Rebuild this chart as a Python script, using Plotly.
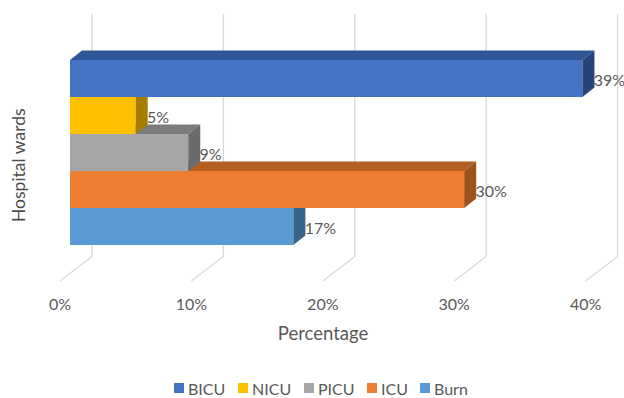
import plotly.graph_objects as go

# Ward shares, listed from the lowest bar to the highest
wards = ["Burn", "ICU", "PICU", "NICU", "BICU"]
shares = [17, 30, 9, 5, 39]
front_colors = ["#5B9BD5", "#ED7D31", "#A5A5A5", "#FFC000", "#4472C4"]
top_colors = ["#3F6E99", "#B35E22", "#7B7B7B", "#A67D00", "#2F5597"]
side_colors = ["#376489", "#9C5218", "#6B6B6B", "#A67D00", "#264478"]
legend_order = ["BICU", "NICU", "PICU", "ICU", "Burn"]
legend_key_px = [174, 238, 304, 367, 420]
x_ticks = [0, 10, 20, 30, 40]

# Pixel layout of the plotting area and the scale of both axes
WIDTH, HEIGHT = 624, 398
LEFT, BOTTOM_PX = 22, 292
ZERO_PX, PX_PER_PCT = 70.0, 13.14
BURN_PX, PX_PER_BAND = 226.5, 37.0

# Oblique offset of the bars' depth and of the floor and back wall
DEPTH_X, DEPTH_Y = 12 / PX_PER_PCT, 9.5 / PX_PER_BAND
WALL_X = 22 / PX_PER_PCT
FLOOR_FRONT_X = -10 / PX_PER_PCT
FLOOR_BACK_Y = (BURN_PX - 256.5) / PX_PER_BAND
FLOOR_FRONT_Y = (BURN_PX - 281) / PX_PER_BAND
WALL_TOP_Y = (BURN_PX - 14) / PX_PER_BAND
LABEL_DROP = 3 / PX_PER_BAND
LEGEND_Y_PX, KEY_SIZE = 388, 10

fig = go.Figure()

# Front faces as horizontal bars
for name in legend_order:
    i = wards.index(name)
    fig.add_trace(go.Bar(
        x=[shares[i]], y=[i], name=name, orientation="h", width=1,
        marker=dict(color=front_colors[i], line=dict(width=0)),
        showlegend=False,
    ))


def face(xs, ys, color):
    fig.add_trace(go.Scatter(
        x=xs, y=ys, mode="lines", fill="toself", fillcolor=color,
        line=dict(width=0, color=color), showlegend=False, hoverinfo="skip",
    ))


# Top and side faces, lowest bar first; the part behind the next bar up is left out
for i, value in enumerate(shares):
    low, high = i - 0.5, i + 0.5
    above = shares[i + 1] if i + 1 < len(shares) else None
    if above is None or above < value:
        start = 0 if above is None else above
        back_start = DEPTH_X if above is None else above
        face([start, value, value + DEPTH_X, back_start, start],
             [high, high, high + DEPTH_Y, high + DEPTH_Y, high], top_colors[i])
    side_top = high + DEPTH_Y if above is None or above < value + DEPTH_X else high
    face([value, value + DEPTH_X, value + DEPTH_X, value, value],
         [low, low + DEPTH_Y, side_top, high, low], side_colors[i])

# Value labels just past each bar's end
fig.add_trace(go.Scatter(
    x=[v + DEPTH_X - 0.05 for v in shares],
    y=[i - LABEL_DROP for i in range(len(shares))],
    mode="text",
    text=[f"{v}%" for v in shares],
    textposition="middle right",
    textfont=dict(family="Lato", size=16, color="#595959"),
    showlegend=False,
    hoverinfo="skip",
))

# Back-wall and floor gridlines sit beneath the bars
grid = dict(color="#D9D9D9", width=1.3)
shapes = []
for t in x_ticks:
    shapes.append(dict(type="line", layer="below", xref="x", yref="y",
                       x0=t + WALL_X, x1=t + WALL_X, y0=WALL_TOP_Y, y1=FLOOR_BACK_Y, line=grid))
    shapes.append(dict(type="line", layer="below", xref="x", yref="y",
                       x0=t + WALL_X, x1=t + FLOOR_FRONT_X, y0=FLOOR_BACK_Y, y1=FLOOR_FRONT_Y, line=grid))

annotations = [dict(
    text="Hospital wards", textangle=-90, showarrow=False,
    xref="paper", x=0, xshift=-4, xanchor="center",
    yref="y", y=(BURN_PX - 165) / PX_PER_BAND, yanchor="middle",
    font=dict(size=17.5, color="#4D4D4D"),
)]


def paper_x(px):
    return (px - LEFT) / (WIDTH - LEFT)


def paper_y(px):
    return (BOTTOM_PX - px) / BOTTOM_PX


# Key row under the chart: one square and one name per ward
for name, key_px in zip(legend_order, legend_key_px):
    color = front_colors[wards.index(name)]
    shapes.append(dict(
        type="rect", xref="paper", yref="paper", fillcolor=color, line=dict(width=0),
        x0=paper_x(key_px), x1=paper_x(key_px + KEY_SIZE),
        y0=paper_y(LEGEND_Y_PX + KEY_SIZE / 2), y1=paper_y(LEGEND_Y_PX - KEY_SIZE / 2),
    ))
    annotations.append(dict(
        text=name, showarrow=False, xref="paper", yref="paper",
        x=paper_x(key_px + KEY_SIZE + 4), xanchor="left", xshift=-2,
        y=paper_y(LEGEND_Y_PX), yanchor="middle",
        font=dict(size=16, color="#595959"),
    ))

fig.update_layout(
    width=WIDTH, height=HEIGHT,
    margin=dict(l=LEFT, r=0, t=0, b=HEIGHT - BOTTOM_PX, autoexpand=False),
    paper_bgcolor="white", plot_bgcolor="white",
    font=dict(family="Lato", color="#595959"),
    shapes=shapes,
    barmode="overlay",
    showlegend=False,
    xaxis=dict(
        range=[(LEFT - ZERO_PX) / PX_PER_PCT, (WIDTH - ZERO_PX) / PX_PER_PCT],
        tickvals=[t + FLOOR_FRONT_X for t in x_ticks],
        ticktext=[f"{t}%" for t in x_ticks],
        tickfont=dict(size=16, color="#595959"),
        ticklabelstandoff=1,
        showgrid=False, zeroline=False, showline=False, ticks="",
        title=dict(text="Percentage", font=dict(size=18.5, color="#595959"), standoff=15),
    ),
    yaxis=dict(
        range=[(BURN_PX - BOTTOM_PX) / PX_PER_BAND, BURN_PX / PX_PER_BAND],
        showgrid=False, zeroline=False, showline=False, showticklabels=False, ticks="",
    ),
    annotations=annotations,
)

fig.write_html("out.html")
